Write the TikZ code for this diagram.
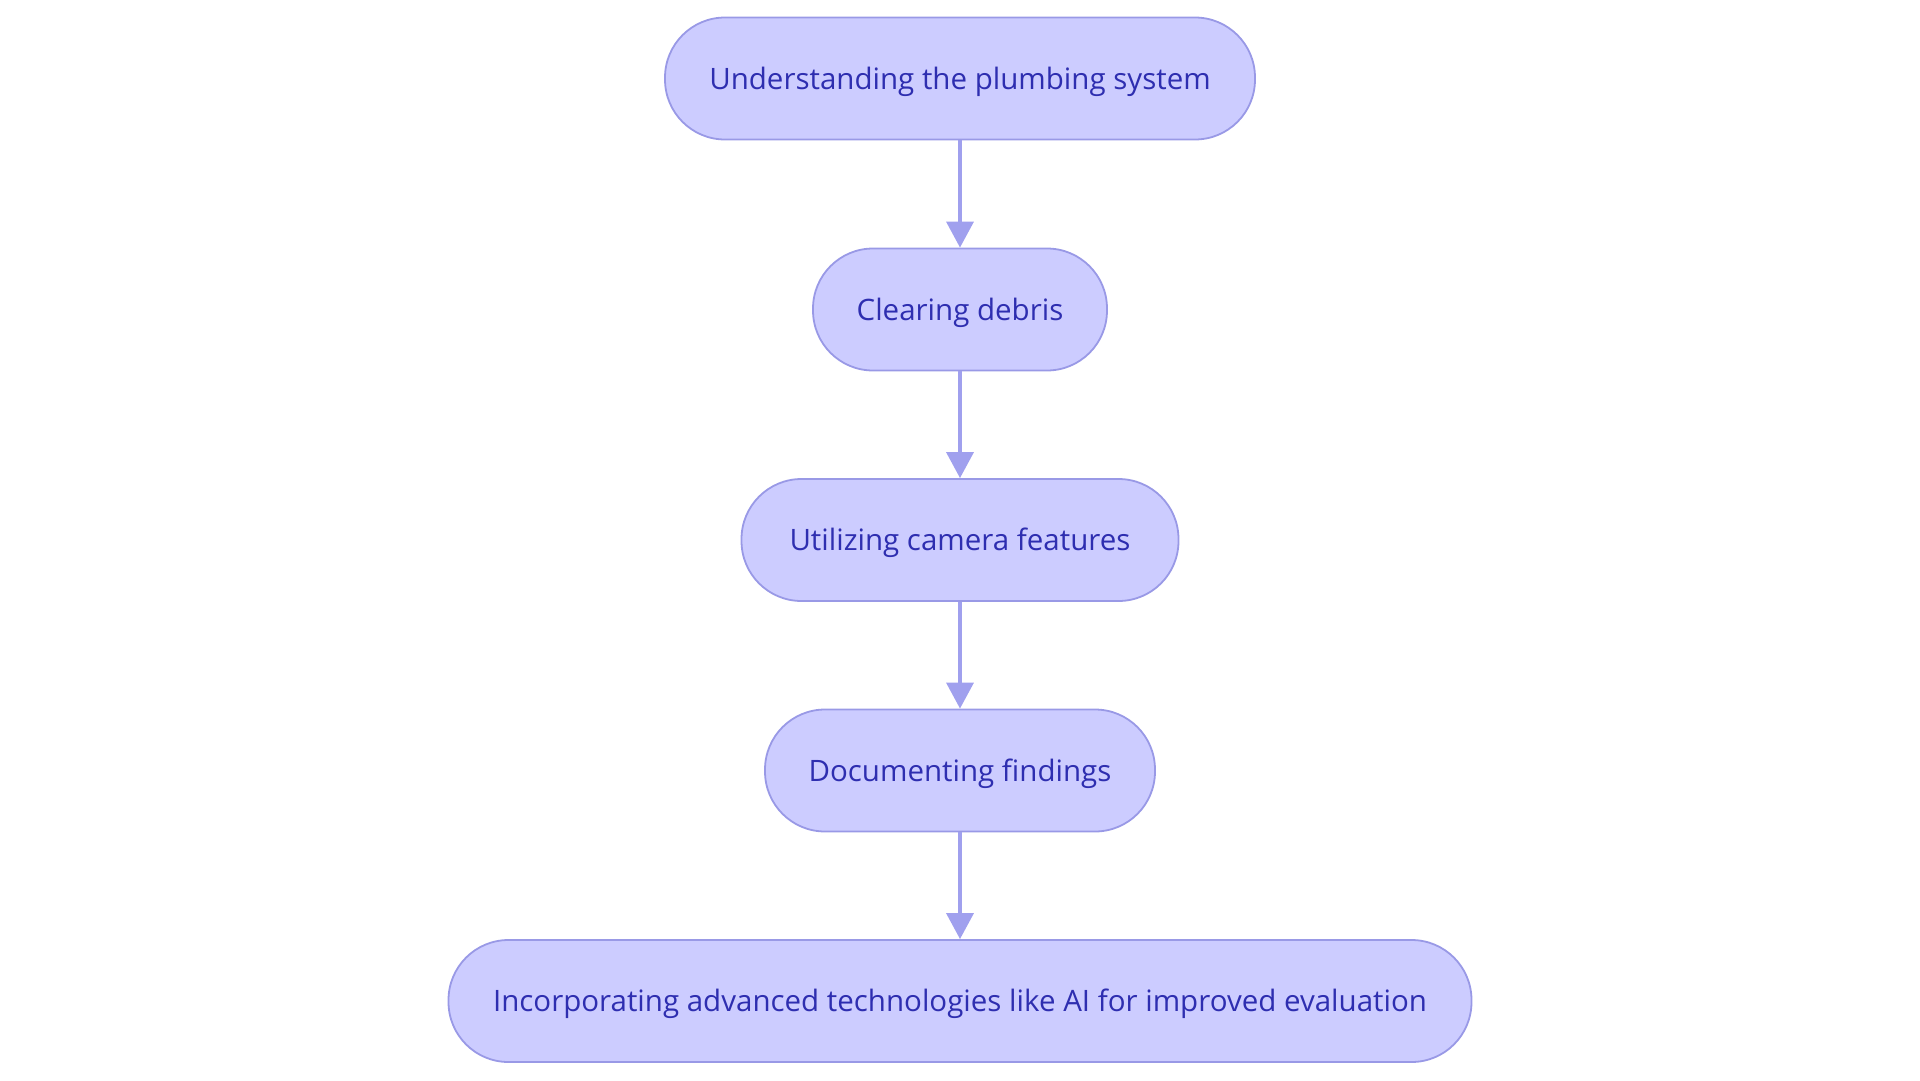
\documentclass[tikz,border=0pt]{standalone}
\usepackage{fontspec}
\setmainfont{Open Sans}
\usetikzlibrary{arrows.meta}
\definecolor{nodefill}{HTML}{CCCCFF}
\definecolor{nodeline}{HTML}{9999E6}
\definecolor{nodetext}{HTML}{2E2EB0}
\definecolor{arrowcol}{HTML}{A0A0EE}
\begin{document}
\begin{tikzpicture}[x=1pt,y=-1pt,
  stadium/.style={draw=nodeline, line width=1.8pt, fill=nodefill, rounded corners=60pt,
    minimum height=122pt, inner sep=0pt, text=nodetext, font=\fontsize{29.5}{34}\selectfont,
    text height=27pt, text depth=6pt},
  flow/.style={draw=arrowcol, line width=3.6pt, -{Triangle[length=26pt,width=27pt]}}]
\useasboundingbox (0,0) rectangle (1920,1080);
\node[stadium, minimum width=590pt] (n1) at (960,78.5) {Understanding the plumbing system};
\node[stadium, minimum width=294pt] (n2) at (960,309.5) {Clearing debris};
\node[stadium, minimum width=437pt] (n3) at (960,540) {Utilizing camera features};
\node[stadium, minimum width=390pt] (n4) at (960,770.5) {Documenting findings};
\node[stadium, minimum width=1023pt] (n5) at (960,1001) {Incorporating advanced technologies like AI for improved evaluation};
\draw[flow] (n1) -- (n2);
\draw[flow] (n2) -- (n3);
\draw[flow] (n3) -- (n4);
\draw[flow] (n4) -- (n5);
\end{tikzpicture}
\end{document}
